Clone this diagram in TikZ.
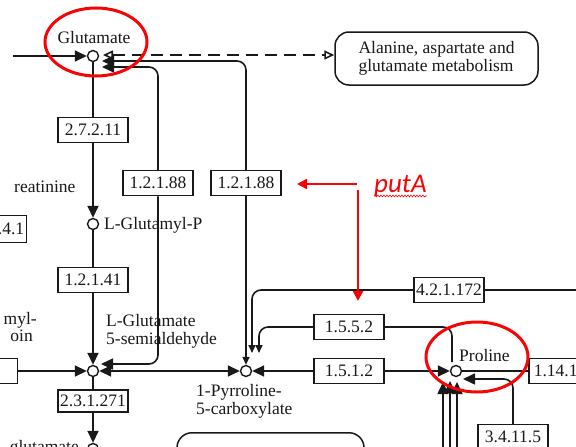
\documentclass[tikz,border=0pt]{standalone}
\usepackage{fontspec}
\setmainfont{Liberation Serif}
\newfontfamily\annotfont{Carlito}
\usetikzlibrary{arrows.meta,decorations.pathmorphing}
\definecolor{ink}{RGB}{25,25,25}
\definecolor{mark}{RGB}{245,5,5}

\begin{document}
\begin{tikzpicture}[x=1pt,y=-1pt,
  every node/.style={font=\fontsize{17.5}{18}\selectfont, inner sep=0pt, text=ink},
  ec/.style={draw=ink, line width=1.5pt, fill=white, minimum width=70pt, minimum height=25pt},
  cpd/.style={circle, draw=ink, line width=1.4pt, fill=white, minimum size=11pt},
  mapbox/.style={draw=ink, line width=1.5pt, fill=white},
  link/.style={draw=ink, line width=1.6pt},
  kt/.tip={Triangle[length=12pt,width=11pt]},
  ks/.tip={Triangle[length=8pt,width=7pt]},
  ot/.tip={Triangle[open,length=10pt,width=9pt]},
  rt/.tip={Triangle[length=10pt,width=10pt]},
  hint/.style={draw=mark, line width=2.4pt},
  ring/.style={draw=mark, line width=3pt}
]
\useasboundingbox (0,0) rectangle (576,447);
\fill[white] (0,0) rectangle (576,447);
\clip (0,0) rectangle (576,447);

% compounds
\node[cpd] (glu) at (93,56) {};
\node (glulab) at (94,38) {Glutamate};
\node[cpd] (glup) at (93,224) {};
\node[anchor=west] (gluplab) at (104,225) {L-Glutamyl-P};
\node[cpd] (gsa) at (93,371) {};
\node[anchor=west, align=left] (gsalab) at (106,331) {L-Glutamate\\5-semialdehyde};
\node[cpd] (p5c) at (246,371) {};
\node[anchor=west, align=left] (p5clab) at (196,401) {1-Pyrroline-\\5-carboxylate};
\node[cpd] (pro) at (456,371) {};
\node[anchor=west] (prolab) at (459,356) {Proline};
\node[cpd] (glub) at (93,449) {};
\node[anchor=west] (creat) at (14,187) {reatinine};
\node[anchor=east] (myl) at (37,320) {myl-};
\node[anchor=east] (oin) at (33,336) {oin};
\node[anchor=base east] (glutxt) at (79,452) {glutamate};

% enzymes
\node[ec] (e27211) at (93,130) {2.7.2.11};
\node[ec] (e12188a) at (158,183) {1.2.1.88};
\node[ec] (e12188b) at (246,183) {1.2.1.88};
\node[ec] (e12141) at (93,280) {1.2.1.41};
\node[ec, minimum height=22pt] (e231271) at (93,401) {2.3.1.271};
\node[ec] (e1552) at (349,327) {1.5.5.2};
\node[ec] (e1512) at (349,371) {1.5.1.2};
\node[ec] (e421172) at (449,290) {4.2.1.172};
\node[ec, anchor=west, minimum width=0pt, inner xsep=5pt] (e11411) at (528,371) {1.14.11};
\node[ec] (e341151) at (513,437) {3.4.11.5};
\node[ec, anchor=east, minimum width=0pt, inner xsep=2pt, minimum height=27pt] (e2141) at (27,229) {2.1.4.1};
\node[ec, anchor=east] (eleft) at (18,371) {};

% linked maps
\node[mapbox, rounded corners=14pt, minimum width=203pt, minimum height=53pt, align=left] (ala) at (436.5,58.5) {Alanine, aspartate and\\glutamate metabolism};
\node[mapbox, rounded corners=15pt, minimum width=187pt, minimum height=50pt, anchor=north] (lowmap) at (270.5,432) {};

% glutamate links
\coordinate (inglu) at (13,56);
\draw[link,-{kt}] (inglu) -- (glu.west);
\coordinate (gluD) at (103,55);
\draw[link, dash pattern=on 12pt off 7pt, {ot}-{ot}] (gluD) -- (gluD -| ala.west);
\coordinate (gluB) at (102,61);
\draw[link,{kt}-,rounded corners=9pt] (gluB) -| (e12188b.north);
\draw[link,-{ks}] (e12188b.south) -- (p5c.north);
\coordinate (gluA) at (102,67);
\draw[link,{kt}-,rounded corners=9pt] (gluA) -| (e12188a.north);
\coordinate (gsaA) at (101,364);
\draw[link,-{kt},rounded corners=9pt] (e12188a.south) |- (gsaA);

% main vertical chain
\draw[link] (glu.south) -- (e27211.north);
\draw[link,-{kt}] (e27211.south) -- (glup.north);
\draw[link] (glup.south) -- (e12141.north);
\draw[link,-{kt}] (e12141.south) -- (gsa.north);
\draw[link] (gsa.south) -- (e231271.north);
\draw[link,-{kt}] (e231271.south) -- (glub.north);

% semialdehyde / P5C / proline
\draw[link,-{kt}] (eleft.east) -- (gsa.west);
\draw[link,{kt}-{kt}] (gsa.east) -- (p5c.west);
\draw[link,{kt}-] (p5c.east) -- (e1512.west);
\draw[link,-{kt}] (e1512.east) -- (pro.west);

\coordinate (p5cD) at (252,353);
\draw[link,-{ks},rounded corners=9pt] (e421172.west) -| (p5cD);
\coordinate (edgeR) at (580,290);
\draw[link] (e421172.east) -- (edgeR);
\coordinate (p5cC) at (259,353);
\draw[link,-{ks},rounded corners=9pt] (e1552.west) -| (p5cC);
\coordinate (proN) at (452,362);
\draw[link,rounded corners=9pt] (e1552.east) -| (proN);

\draw[link] (e11411.west) -- (pro.east);
\coordinate (proE) at (463,379);
\draw[link,-{kt},rounded corners=9pt] (e341151.north) |- (proE);

\coordinate (s1) at (443,452); \coordinate (t1) at (443,382);
\coordinate (s2) at (450,452); \coordinate (t2) at (450,381);
\coordinate (s3) at (457,452); \coordinate (t3) at (457,382);
\draw[link,-{kt}] (s1) -- (t1);
\draw[link,-{kt}] (s2) -- (t2);
\draw[link,-{kt}] (s3) -- (t3);

% annotations
\draw[ring] (96,42) ellipse [x radius=51pt, y radius=34pt];
\draw[ring] (477,357) ellipse [x radius=51pt, y radius=35pt];
\node[anchor=base west, text=mark, font=\annotfont\itshape\fontsize{27}{27}\selectfont] (puta) at (374,192) {putA};
\draw[draw=mark, line width=0.6pt, decorate, decoration={snake,amplitude=0.9pt,segment length=3pt}]
  ([yshift=-4pt]puta.base west) -- ([yshift=-4pt]puta.base east);
\coordinate (hintS) at (357,184);
\coordinate (hintL) at (297,184);
\coordinate (hintT) at (358,190);
\coordinate (hintD) at (358,301);
\draw[hint,-{rt}] (hintS) -- (hintL);
\draw[hint,-{rt}] (hintT) -- (hintD);
\end{tikzpicture}
\end{document}
